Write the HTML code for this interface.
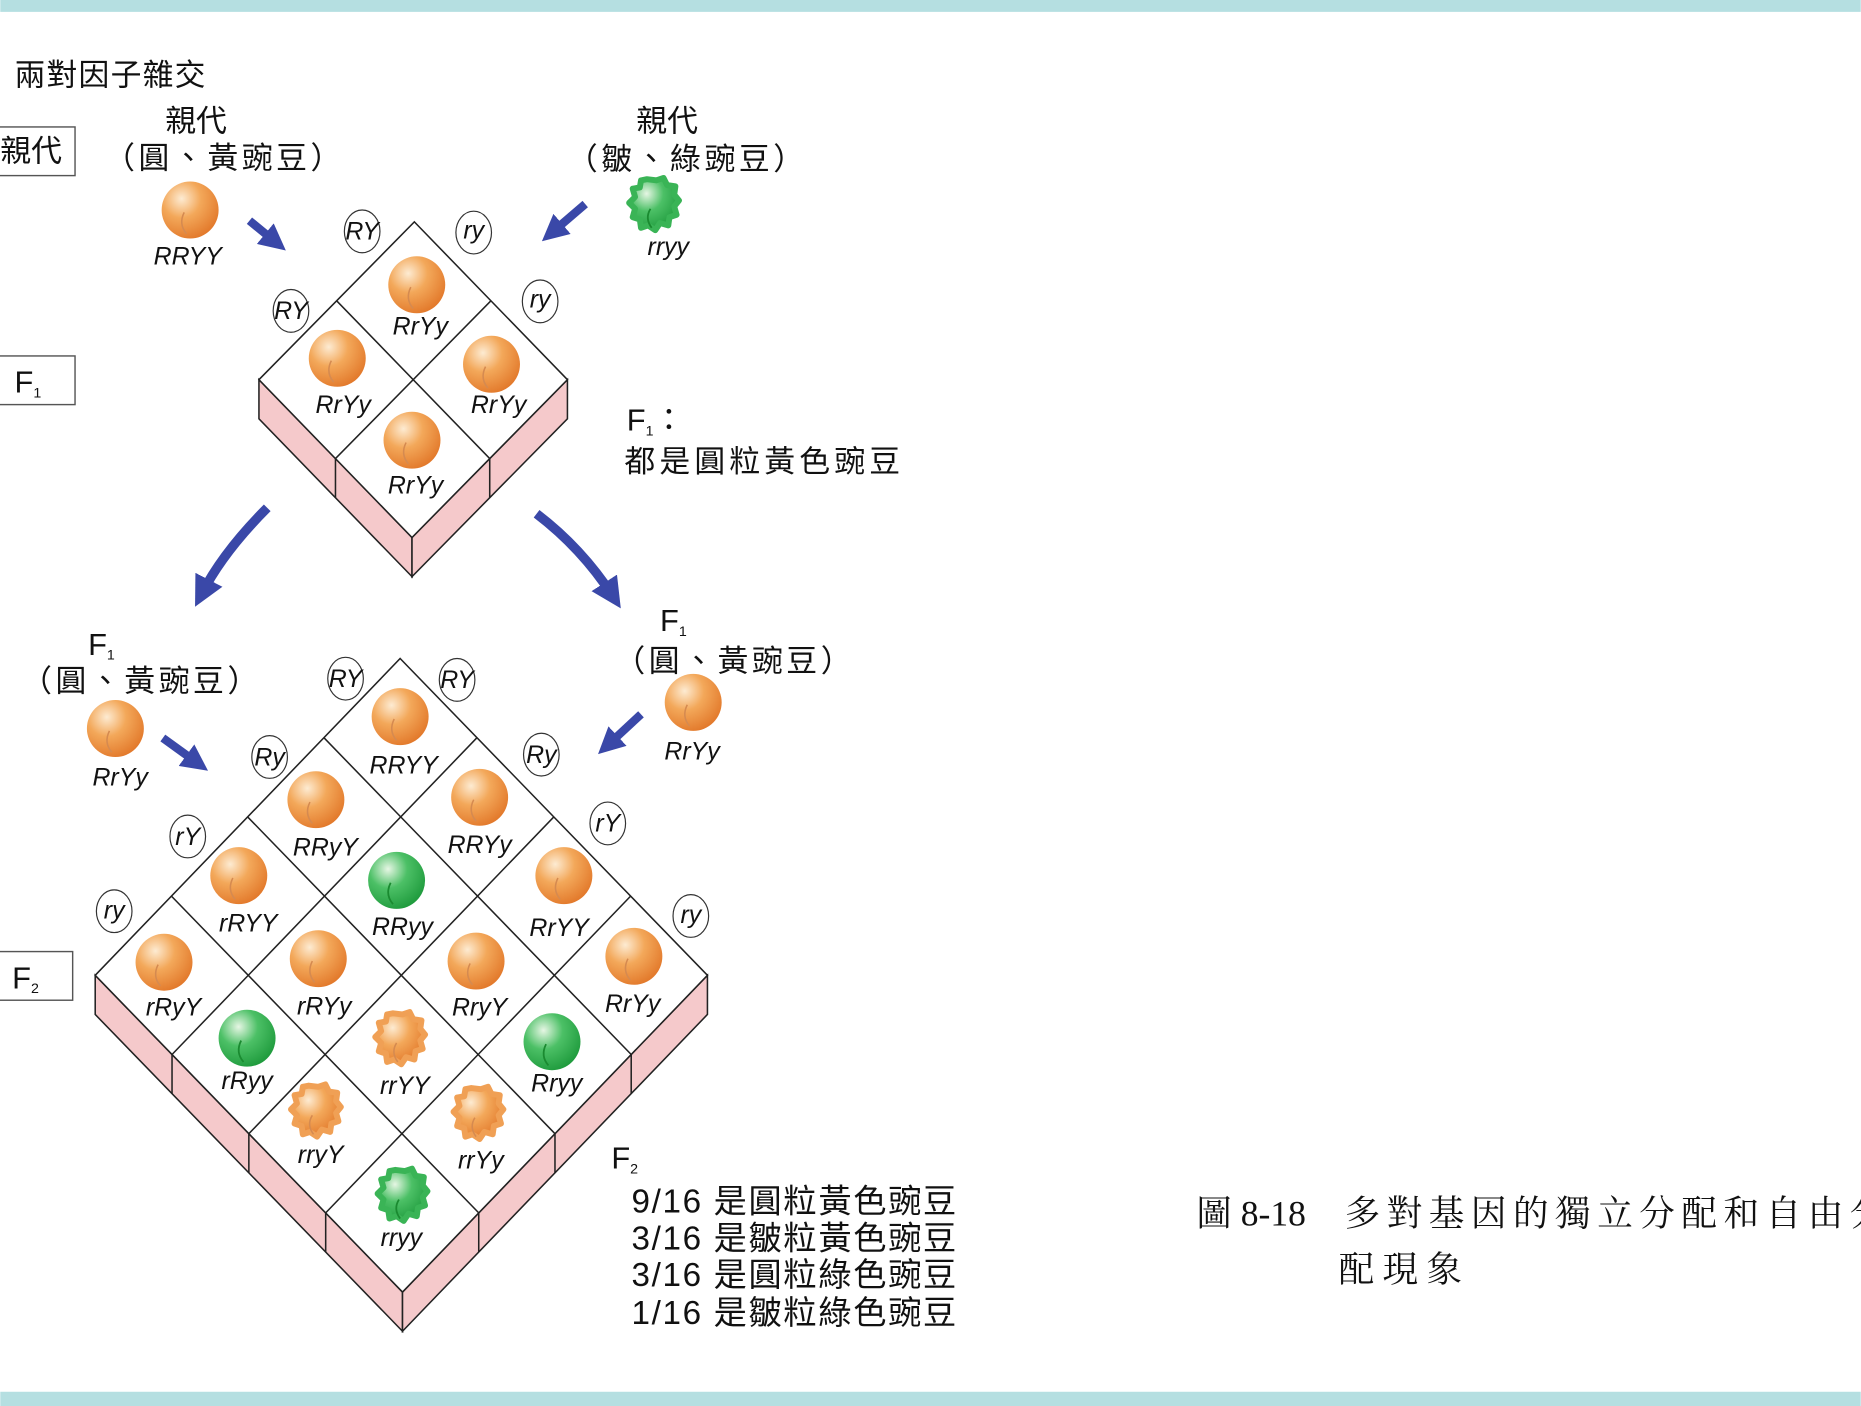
<!DOCTYPE html>
<html><head><meta charset="utf-8"><style>
html,body{margin:0;padding:0;background:#fff;}
svg{display:block;}
.t{font-family:"Liberation Sans","Noto Sans CJK TC",sans-serif;fill:#111;}
.g{font-family:"Liberation Sans",sans-serif;font-style:italic;fill:#111;font-size:21px;text-anchor:middle;}
.c{font-family:"Liberation Serif","Noto Serif CJK SC",serif;fill:#111;font-size:30px;}
.p{letter-spacing:3px;}
</style></head><body>
<svg width="1861" height="1406" viewBox="0 0 1568 1185" xmlns="http://www.w3.org/2000/svg">
<defs>
<radialGradient id="og" cx="0.35" cy="0.3" r="0.75">
<stop offset="0" stop-color="#fdebd2"/><stop offset="0.45" stop-color="#f3a85a"/><stop offset="1" stop-color="#e2782a"/></radialGradient>
<radialGradient id="gg" cx="0.35" cy="0.3" r="0.75">
<stop offset="0" stop-color="#e6f6e4"/><stop offset="0.45" stop-color="#4cc066"/><stop offset="1" stop-color="#1e9a3c"/></radialGradient>
<g id="po"><circle r="24" fill="url(#og)"/><path d="M-5 2 q-5 10 2 18" stroke="#d58a50" stroke-width="1.3" fill="none"/></g>
<g id="pg"><circle r="24" fill="url(#gg)"/><path d="M-5 2 q-5 10 2 18" stroke="#1a8a30" stroke-width="1.5" fill="none"/></g>
<path id="wr" d="M-6 -21 L2 -20 L8 -22 L11 -16 L18 -15 L17 -8 L21 -3 L17 2 L19 9 L13 11 L12 18 L5 16 L1 22 L-5 18 L-11 20 L-12 13 L-18 11 L-16 4 L-21 -1 L-16 -6 L-18 -13 L-12 -14 L-11 -20 Z" stroke-linejoin="round" stroke-width="5"/>
<g id="wo"><use href="#wr" fill="url(#og)" stroke="#f0a055"/><path d="M-3 4 q-5 8 1 16" stroke="#d58a50" stroke-width="1.3" fill="none"/></g>
<g id="wg"><use href="#wr" fill="url(#gg)" stroke="#3ab456"/><path d="M-3 4 q-5 8 1 16" stroke="#1a8a30" stroke-width="1.5" fill="none"/></g>
<marker id="ah" viewBox="0 0 10 10" refX="5" refY="5" markerWidth="3.2" markerHeight="3.2" orient="auto"><path d="M0 0 L10 5 L0 10 Z" fill="#3a48a8"/></marker>
</defs>
<rect x="0" y="0" width="1568" height="10" fill="#b5dfe1"/>
<rect x="0" y="1173" width="1568" height="12" fill="#b5dfe1"/>

<text class="t" x="12" y="72" font-size="26" letter-spacing="1">兩對因子雜交</text>
<rect x="-2" y="107" width="65" height="41" fill="none" stroke="#555" stroke-width="1.2"/>
<text class="t" x="0" y="136" font-size="26">親代</text>
<rect x="-2" y="300" width="65" height="41" fill="none" stroke="#555" stroke-width="1.2"/>
<text class="t" x="12" y="331" font-size="26">F<tspan font-size="12" dy="4">1</tspan></text>
<rect x="-2" y="802" width="63" height="41" fill="none" stroke="#555" stroke-width="1.2"/>
<text class="t" x="10" y="833" font-size="26">F<tspan font-size="12" dy="4">2</tspan></text>

<text class="t" x="165" y="111" font-size="26" text-anchor="middle">親代</text>
<text class="t p" x="189" y="142" font-size="26" text-anchor="middle">（圓、黃豌豆）</text>
<use href="#po" x="160" y="177"/>
<text class="g" x="158" y="223">RRYY</text>
<line x1="210" y1="186" x2="232" y2="204" stroke="#3a48a8" stroke-width="7" marker-end="url(#ah)"/>

<text class="t" x="562" y="111" font-size="26" text-anchor="middle">親代</text>
<text class="t p" x="579" y="143" font-size="26" text-anchor="middle">（皺、綠豌豆）</text>
<use href="#wg" x="551" y="172"/>
<text class="g" x="563" y="215">rryy</text>
<line x1="493" y1="172" x2="465" y2="196" stroke="#3a48a8" stroke-width="7" marker-end="url(#ah)"/>

<!-- F1 diamond -->
<g stroke="#222" stroke-width="1.3">
<polygon points="218,320 347,453 347,486 218,353" fill="#f5c9cb"/>
<polygon points="347,453 478,320 478,353 347,486" fill="#f5c9cb"/>
<polygon points="349,187 478,320 347,453 218,320" fill="#fff"/>
<line x1="283.5" y1="253.5" x2="412.5" y2="386.5"/>
<line x1="413.5" y1="253.5" x2="282.5" y2="386.5"/>
<line x1="282.5" y1="386.5" x2="282.5" y2="419.5"/>
<line x1="412.5" y1="386.5" x2="412.5" y2="419.5"/>
</g>
<use href="#po" x="351" y="240"/><text class="g" x="354" y="282">RrYy</text>
<use href="#po" x="284" y="302"/><text class="g" x="289" y="348">RrYy</text>
<use href="#po" x="414" y="307"/><text class="g" x="420" y="348">RrYy</text>
<use href="#po" x="347" y="371"/><text class="g" x="350" y="416">RrYy</text>
<g fill="#fff" stroke="#333" stroke-width="1">
<ellipse cx="305" cy="195" rx="15" ry="18"/><ellipse cx="399" cy="196" rx="15" ry="18"/>
<ellipse cx="245" cy="262" rx="15" ry="18"/><ellipse cx="455" cy="254" rx="15" ry="18"/></g>
<g class="g" font-size="19"><text x="305" y="202">RY</text><text x="399" y="201">ry</text><text x="245" y="269">RY</text><text x="455" y="259">ry</text></g>

<text class="t" x="528" y="363" font-size="26">F<tspan font-size="12" dy="4">1</tspan><tspan dy="-4">：</tspan></text>
<text class="t" x="526" y="398" font-size="26" letter-spacing="3.5">都是圓粒黃色豌豆</text>

<path d="M225 428 Q188 465 170 500" stroke="#3a48a8" stroke-width="8" fill="none" marker-end="url(#ah)"/>
<path d="M452 433 Q490 462 516 502" stroke="#3a48a8" stroke-width="8" fill="none" marker-end="url(#ah)"/>

<text class="t" x="74" y="552" font-size="26">F<tspan font-size="12" dy="4">1</tspan></text>
<text class="t p" x="119" y="583" font-size="26" text-anchor="middle">（圓、黃豌豆）</text>
<use href="#po" x="97" y="614"/><text class="g" x="101" y="662">RrYy</text>
<line x1="137" y1="622" x2="166" y2="643" stroke="#3a48a8" stroke-width="7" marker-end="url(#ah)"/>

<text class="t" x="556" y="532" font-size="26">F<tspan font-size="12" dy="4">1</tspan></text>
<text class="t p" x="619" y="566" font-size="26" text-anchor="middle">（圓、黃豌豆）</text>
<use href="#po" x="584" y="592"/><text class="g" x="583" y="640">RrYy</text>
<line x1="540" y1="602" x2="512" y2="628" stroke="#3a48a8" stroke-width="7" marker-end="url(#ah)"/>

<!-- F2 diamond -->
<g stroke="#222" stroke-width="1.3">
<polygon points="80,822 339,1089 339,1122 80,855" fill="#f5c9cb"/>
<polygon points="339,1089 596,822 596,855 339,1122" fill="#f5c9cb"/>
<polygon points="337,555 596,822 339,1089 80,822" fill="#fff"/>
<line x1="272.75" y1="621.75" x2="531.75" y2="888.75"/>
<line x1="208.5" y1="688.5" x2="467.5" y2="955.5"/>
<line x1="144.25" y1="755.25" x2="403.25" y2="1022.25"/>
<line x1="401.75" y1="621.75" x2="144.75" y2="888.75"/>
<line x1="466.5" y1="688.5" x2="209.5" y2="955.5"/>
<line x1="531.25" y1="755.25" x2="274.25" y2="1022.25"/>
<line x1="144.75" y1="888.75" x2="144.75" y2="921.75"/>
<line x1="209.5" y1="955.5" x2="209.5" y2="988.5"/>
<line x1="274.25" y1="1022.25" x2="274.25" y2="1055.25"/>
<line x1="531.75" y1="888.75" x2="531.75" y2="921.75"/>
<line x1="467.5" y1="955.5" x2="467.5" y2="988.5"/>
<line x1="403.25" y1="1022.25" x2="403.25" y2="1055.25"/>
</g>
<use href="#po" x="337" y="604"/><text class="g" x="340" y="652">RRYY</text>
<use href="#po" x="266" y="674"/><text class="g" x="274" y="721">RRyY</text>
<use href="#po" x="404" y="672"/><text class="g" x="404" y="719">RRYy</text>
<use href="#po" x="201" y="738"/><text class="g" x="209" y="785">rRYY</text>
<use href="#pg" x="334" y="742"/><text class="g" x="339" y="788">RRyy</text>
<use href="#po" x="475" y="738"/><text class="g" x="471" y="789">RrYY</text>
<use href="#po" x="138" y="811"/><text class="g" x="146" y="856">rRyY</text>
<use href="#po" x="268" y="808"/><text class="g" x="273" y="855">rRYy</text>
<use href="#po" x="401" y="810"/><text class="g" x="404" y="856">RryY</text>
<use href="#po" x="534" y="806"/><text class="g" x="533" y="853">RrYy</text>
<use href="#pg" x="208" y="875"/><text class="g" x="208" y="918">rRyy</text>
<use href="#wo" x="337" y="875"/><text class="g" x="341" y="922">rrYY</text>
<use href="#pg" x="465" y="878"/><text class="g" x="469" y="920">Rryy</text>
<use href="#wo" x="266" y="936"/><text class="g" x="270" y="980">rryY</text>
<use href="#wo" x="403" y="938"/><text class="g" x="405" y="985">rrYy</text>
<use href="#wg" x="339" y="1007"/><text class="g" x="338" y="1050">rryy</text>
<g fill="#fff" stroke="#333" stroke-width="1">
<ellipse cx="291" cy="572" rx="15" ry="18"/><ellipse cx="385" cy="573" rx="15" ry="18"/>
<ellipse cx="227" cy="638" rx="15" ry="18"/><ellipse cx="456" cy="636" rx="15" ry="18"/>
<ellipse cx="158" cy="705" rx="15" ry="18"/><ellipse cx="512" cy="694" rx="15" ry="18"/>
<ellipse cx="96" cy="768" rx="15" ry="18"/><ellipse cx="582" cy="772" rx="15" ry="18"/></g>
<g class="g" font-size="19">
<text x="291" y="579">RY</text><text x="385" y="580">RY</text>
<text x="227" y="645">Ry</text><text x="456" y="643">Ry</text>
<text x="158" y="712">rY</text><text x="512" y="701">rY</text>
<text x="96" y="774">ry</text><text x="582" y="778">ry</text></g>

<text class="t" x="515" y="985" font-size="26">F<tspan font-size="12" dy="4">2</tspan></text>
<g class="t" font-size="28" letter-spacing="1.4">
<text x="532" y="1022">9/16 是圓粒黃色豌豆</text>
<text x="532" y="1053">3/16 是皺粒黃色豌豆</text>
<text x="532" y="1084">3/16 是圓粒綠色豌豆</text>
<text x="532" y="1116">1/16 是皺粒綠色豌豆</text>
</g>
<text class="c" x="1008" y="1033">圖 8-18</text>
<text class="c" x="1133" y="1033" letter-spacing="5.5">多對基因的獨立分配和自由分</text>
<text class="c" x="1128" y="1080" letter-spacing="7">配現象</text>
</svg>
</body></html>
